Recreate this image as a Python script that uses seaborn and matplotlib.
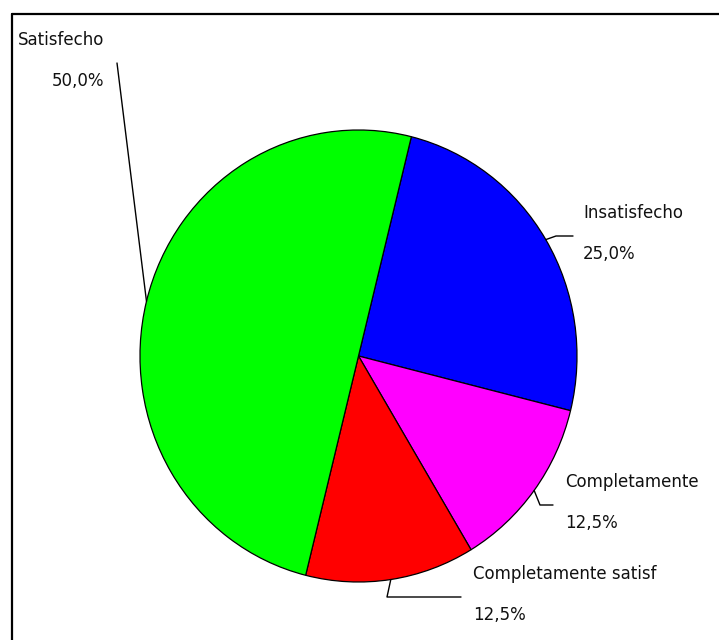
import matplotlib
matplotlib.use("Agg")
import matplotlib.pyplot as plt
import seaborn as sns
import numpy as np
from matplotlib.lines import Line2D
from matplotlib.transforms import IdentityTransform

# Satisfaction survey shares
categories = ["Insatisfecho", "Completamente", "Completamente satisf", "Satisfecho"]
shares = [25.0, 12.5, 12.5, 50.0]
colors = ["#0000FF", "#FF00FF", "#FF0000", "#00FF00"]

sns.set_theme(style="white")
plt.rcParams["font.family"] = ["DejaVu Sans"]

W, H = 719, 640
fig = plt.figure(figsize=(W / 100, H / 100), dpi=100)
fig.patch.set_facecolor("white")


def fig_px(x, y):
    """Top-left pixel position -> display coordinates."""
    return x, H - y


# pie area (slightly taller than wide, as drawn by the original tool)
left, top, right, bottom = 140, 130, 577, 582
ax = fig.add_axes([left / W, 1 - bottom / H, (right - left) / W, (bottom - top) / H])
wedges, _ = ax.pie(
    shares,
    colors=colors,
    startangle=76,
    counterclock=False,
    wedgeprops=dict(edgecolor="black", linewidth=0.9),
)
ax.set_xlim(-1, 1)
ax.set_ylim(-1, 1)
ax.set_aspect("auto")
ax.axis("off")

# leader knees and label anchors (top-left pixel coordinates)
layout = {
    "Satisfecho": dict(knees=[(117, 63)], text_x=104, ha="right"),
    "Insatisfecho": dict(knees=[(556, 236), (573, 236)], text_x=583, ha="left"),
    "Completamente": dict(knees=[(540, 505), (553, 505)], text_x=565, ha="left"),
    "Completamente satisf": dict(knees=[(387, 597), (461, 597)], text_x=473, ha="left"),
}

fs = 12

for w, name, val in zip(wedges, categories, shares):
    mid = np.deg2rad((w.theta1 + w.theta2) / 2)
    ex, ey = ax.transData.transform((np.cos(mid), np.sin(mid)))
    spec = layout[name]
    xs = [ex] + [fig_px(*k)[0] for k in spec["knees"]]
    ys = [ey] + [fig_px(*k)[1] for k in spec["knees"]]
    fig.add_artist(Line2D(xs, ys, transform=IdentityTransform(), color="black", linewidth=1.0))
    ky = spec["knees"][-1][1]
    pct = f"{val:.1f}%".replace(".", ",")
    for txt, dy in ((name, -23), (pct, 18)):
        fig.text(*fig_px(spec["text_x"], ky + dy), txt, transform=IdentityTransform(),
                 ha=spec["ha"], va="center", fontsize=fs, color="#111111")

# chart frame: left and top rules
fig.add_artist(Line2D([12, 12], [0, H - 14], transform=IdentityTransform(), color="black", linewidth=1.6))
fig.add_artist(Line2D([12, W], [H - 14, H - 14], transform=IdentityTransform(), color="black", linewidth=1.6))

fig.savefig("out.png", dpi=100)
